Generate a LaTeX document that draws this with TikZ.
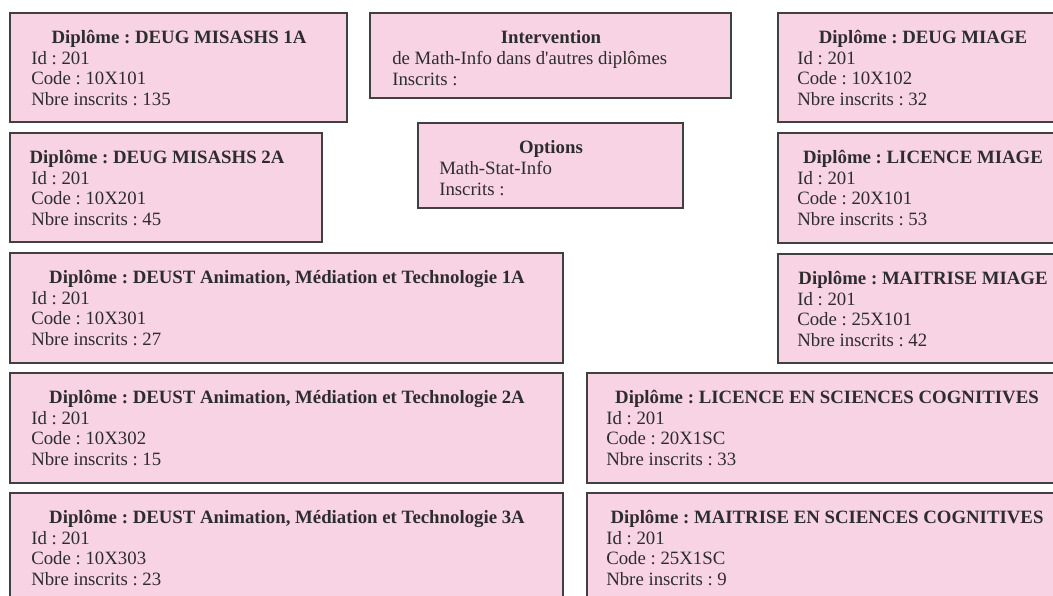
\documentclass[tikz,border=0pt]{standalone}
\usepackage{fontspec}
\setmainfont{Liberation Serif}[Ligatures=TeXOff]
\frenchspacing
\definecolor{rose}{RGB}{248,211,228}
\definecolor{bord}{RGB}{64,64,64}
\definecolor{encre}{RGB}{45,45,45}
\begin{document}
\begin{tikzpicture}[x=0.75pt,y=0.75pt,yscale=-1,
	cadre/.style={draw=bord,fill=rose,line width=1.5pt},
	titre/.style={anchor=base,inner sep=0pt,text=encre,font=\fontsize{14.1}{15.5}\selectfont\bfseries},
	corps/.style={anchor=north west,inner sep=0pt,align=left,text=encre,font=\fontsize{14.1}{15.5}\selectfont}]
	\useasboundingbox (0,0) rectangle (1053,596);
	\clip (0,0) rectangle (1053,596);
	
	%Shape: Rectangle
	\draw [cadre] (10,13) rectangle (347,122);
	%Shape: Rectangle
	\draw [cadre] (10,133) rectangle (322,242);
	%Shape: Rectangle
	\draw [cadre] (370,13) rectangle (731,98);
	%Shape: Rectangle
	\draw [cadre] (418,123) rectangle (683,208);
	%Shape: Rectangle
	\draw [cadre] (778,13) rectangle (1068,122);
	%Shape: Rectangle
	\draw [cadre] (778,133) rectangle (1068,243);
	%Shape: Rectangle
	\draw [cadre] (778,254) rectangle (1068,363);
	%Shape: Rectangle
	\draw [cadre] (10,253) rectangle (563,363);
	%Shape: Rectangle
	\draw [cadre] (10,373) rectangle (563,483);
	%Shape: Rectangle
	\draw [cadre] (10,493) rectangle (563,603);
	%Shape: Rectangle
	\draw [cadre] (587,373) rectangle (1067,483);
	%Shape: Rectangle
	\draw [cadre] (587,493) rectangle (1067,603);
	
	% Text Node
	\node [titre] (tMis1) at (179,43) {Diplôme : DEUG MISASHS 1A};
	\node [corps] (bMis1) at (31,51) {Id : 201\\Code : 10X101\\Nbre inscrits : 135};
	% Text Node
	\node [titre] (tMis2) at (157,163) {Diplôme : DEUG MISASHS 2A};
	\node [corps] (bMis2) at (31,171) {Id : 201\\Code : 10X201\\Nbre inscrits : 45};
	% Text Node
	\node [titre] (tInter) at (551,43) {Intervention};
	\node [corps] (bInter) at (392,51) {de Math-Info dans d'autres diplômes\\Inscrits :};
	% Text Node
	\node [titre] (tOpt) at (551,153) {Options};
	\node [corps] (bOpt) at (439,161) {Math-Stat-Info\\Inscrits :};
	% Text Node
	\node [titre] (tMiage1) at (923,43) {Diplôme : DEUG MIAGE};
	\node [corps] (bMiage1) at (797,51) {Id : 201\\Code : 10X102\\Nbre inscrits : 32};
	% Text Node
	\node [titre] (tMiage2) at (923,163) {Diplôme : LICENCE MIAGE};
	\node [corps] (bMiage2) at (797,171) {Id : 201\\Code : 20X101\\Nbre inscrits : 53};
	% Text Node
	\node [titre] (tMiage3) at (923,284) {Diplôme : MAITRISE MIAGE};
	\node [corps] (bMiage3) at (797,292) {Id : 201\\Code : 25X101\\Nbre inscrits : 42};
	% Text Node
	\node [titre] (tDeust1) at (287,283) {Diplôme : DEUST Animation, Médiation et Technologie 1A};
	\node [corps] (bDeust1) at (31,291) {Id : 201\\Code : 10X301\\Nbre inscrits : 27};
	% Text Node
	\node [titre] (tDeust2) at (287,403) {Diplôme : DEUST Animation, Médiation et Technologie 2A};
	\node [corps] (bDeust2) at (31,411) {Id : 201\\Code : 10X302\\Nbre inscrits : 15};
	% Text Node
	\node [titre] (tDeust3) at (287,523) {Diplôme : DEUST Animation, Médiation et Technologie 3A};
	\node [corps] (bDeust3) at (31,531) {Id : 201\\Code : 10X303\\Nbre inscrits : 23};
	% Text Node
	\node [titre] (tSc1) at (827,403) {Diplôme : LICENCE EN SCIENCES COGNITIVES};
	\node [corps] (bSc1) at (606,411) {Id : 201\\Code : 20X1SC\\Nbre inscrits : 33};
	% Text Node
	\node [titre] (tSc2) at (827,523) {Diplôme : MAITRISE EN SCIENCES COGNITIVES};
	\node [corps] (bSc2) at (606,531) {Id : 201\\Code : 25X1SC\\Nbre inscrits : 9};
	
\end{tikzpicture}
\end{document}
